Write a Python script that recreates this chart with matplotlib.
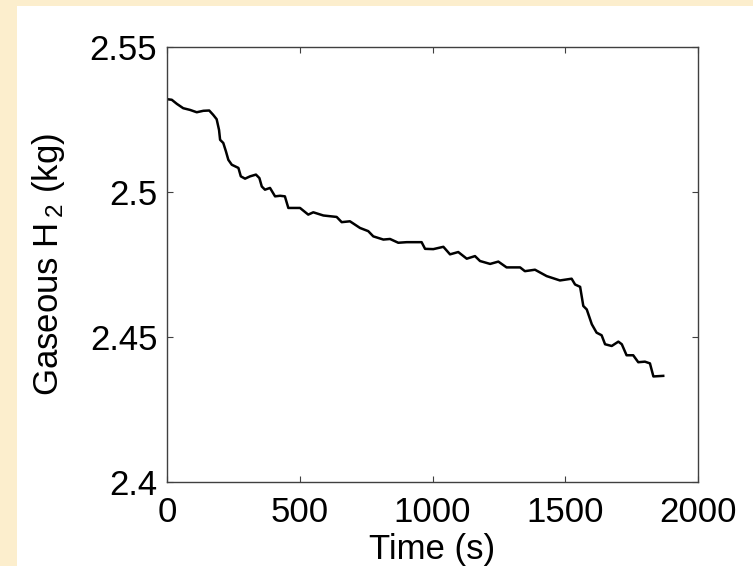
import numpy as np
import matplotlib.pyplot as plt
from matplotlib.patches import Rectangle

plt.rcParams['font.family'] = ['Liberation Sans', 'DejaVu Sans']
plt.rcParams['mathtext.fontset'] = 'custom'
plt.rcParams['mathtext.rm'] = 'Liberation Sans'
plt.rcParams['mathtext.it'] = 'Liberation Sans'

# values
time_s = [1, 18, 37, 61, 87, 112, 137, 159, 174, 187, 196, 200, 212, 222, 231,
          244, 269, 278, 294, 313, 335, 348, 357, 369, 388, 407, 426, 444, 457,
          501, 532, 551, 589, 639, 658, 689, 727, 758, 777, 815, 840, 871, 903,
          959, 972, 1003, 1041, 1066, 1097, 1129, 1160, 1179, 1217, 1248, 1279,
          1330, 1348, 1386, 1430, 1480, 1524, 1537, 1556, 1568, 1581, 1600,
          1618, 1637, 1650, 1675, 1700, 1713, 1731, 1756, 1775, 1800, 1819,
          1832, 1869]
h2_kg = [2.5320, 2.5318, 2.5304, 2.5289, 2.5283, 2.5275, 2.5280, 2.5281, 2.5266,
         2.5251, 2.5214, 2.5180, 2.5169, 2.5140, 2.5111, 2.5094, 2.5083, 2.5054,
         2.5046, 2.5054, 2.5060, 2.5048, 2.5019, 2.5008, 2.5014, 2.4985, 2.4987,
         2.4985, 2.4945, 2.4945, 2.4922, 2.4930, 2.4919, 2.4914, 2.4896, 2.4899,
         2.4876, 2.4865, 2.4847, 2.4836, 2.4838, 2.4825, 2.4827, 2.4827, 2.4804,
         2.4803, 2.4811, 2.4785, 2.4793, 2.4770, 2.4779, 2.4762, 2.4752, 2.4760,
         2.4740, 2.4740, 2.4727, 2.4732, 2.4710, 2.4695, 2.4701, 2.4681, 2.4673,
         2.4607, 2.4595, 2.4544, 2.4515, 2.4506, 2.4475, 2.4469, 2.4484, 2.4475,
         2.4437, 2.4437, 2.4413, 2.4415, 2.4409, 2.4364, 2.4366]

x_ticks = [0, 500, 1000, 1500, 2000]
y_ticks = [2.4, 2.45, 2.5, 2.55]
y_ticklabels = ['2.4', '2.45', '2.5', '2.55']

W, H = 753, 566
fig = plt.figure(figsize=(W / 100, H / 100), dpi=100)
fig.patch.set_facecolor('#FCEECD')
# white panel inside the beige frame
fig.patches.append(Rectangle((17 / W, 0), 1 - 17 / W, 1 - 6 / H,
                             transform=fig.transFigure, facecolor='white',
                             edgecolor='none', zorder=-10))

ax = fig.add_axes([167 / W, 1 - 482 / H, (698 - 167) / W, (482 - 47) / H])
ax.set_zorder(1)
ax.plot(time_s, h2_kg, color='black', linewidth=1.8)

ax.set_xlim(0, 2000)
ax.set_ylim(2.4, 2.55)
ax.set_xticks(x_ticks)
ax.set_yticks(y_ticks)
ax.set_yticklabels(y_ticklabels)
ax.tick_params(direction='in', length=4, width=0.8, color='#404040',
               top=True, right=True, labelsize=25)
ax.tick_params(axis='x', pad=10)
ax.tick_params(axis='y', pad=7)
for sp in ax.spines.values():
    sp.set_color('#404040')
    sp.set_linewidth(1.0)

ax.set_xlabel('Time (s)', fontsize=25, labelpad=3)
ax.set_ylabel('Gaseous H$\\,_2$ (kg)', fontsize=25, labelpad=16)

fig.savefig('out.png', dpi=100, facecolor=fig.get_facecolor())
